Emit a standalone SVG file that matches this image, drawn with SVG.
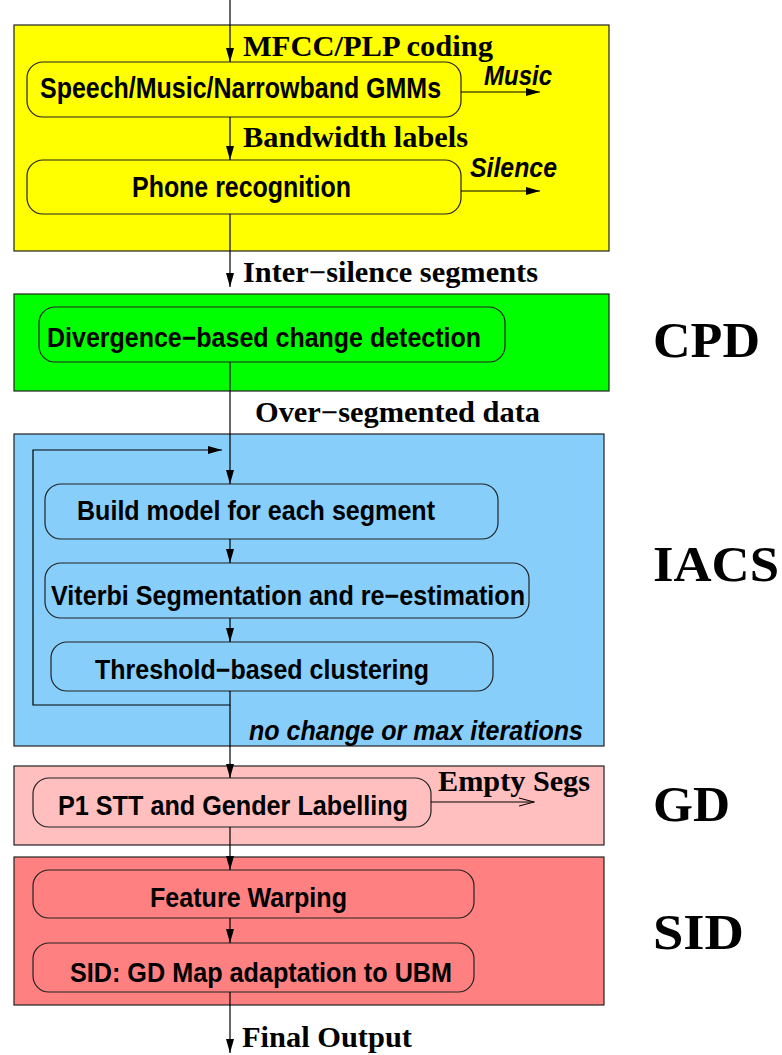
<svg xmlns="http://www.w3.org/2000/svg" width="782" height="1055" viewBox="0 0 782 1055">
  <style>
    .stage { stroke: #222; stroke-width: 1.2; }
    .box { stroke: #222; stroke-width: 1.2; }
    .step { font-family: "Liberation Sans", Arial, sans-serif; font-weight: bold; font-size: 27px; fill: #000; }
    .big { font-size: 30px; }
    .flow { font-family: "Liberation Serif", "Times New Roman", serif; font-weight: bold; font-size: 29px; fill: #000; }
    .side { font-family: "Liberation Sans", Arial, sans-serif; font-weight: bold; font-style: italic; font-size: 27px; fill: #000; }
    .tag { font-family: "Liberation Serif", "Times New Roman", serif; font-weight: bold; font-size: 51px; fill: #000; }
    .wire { fill: none; stroke: #000; stroke-width: 1.2; }
  </style>
  <defs>
    <marker id="head" markerUnits="userSpaceOnUse" markerWidth="14" markerHeight="8" refX="14" refY="4" orient="auto">
      <path d="M0,0 L14,4 L0,8 z" fill="#000"/>
    </marker>
    <marker id="open" markerUnits="userSpaceOnUse" markerWidth="16" markerHeight="10" refX="15" refY="5" orient="auto">
      <path d="M0,1 L15,5 L0,9" fill="none" stroke="#000" stroke-width="1.2"/>
    </marker>
  </defs>

  <!-- stage backgrounds -->
  <g id="stage-segmentation">
    <rect class="stage" x="14" y="25" width="595" height="226" fill="#ffff00"/>
  </g>
  <g id="stage-cpd">
    <rect class="stage" x="14" y="294" width="595" height="97" fill="#00ff00"/>
    <text class="tag" x="653" y="357" textLength="107" lengthAdjust="spacingAndGlyphs">CPD</text>
  </g>
  <g id="stage-iacs">
    <rect class="stage" x="14" y="434" width="590" height="312" fill="#87cefa"/>
    <text class="tag" x="653" y="581" textLength="126" lengthAdjust="spacingAndGlyphs">IACS</text>
  </g>
  <g id="stage-gd">
    <rect class="stage" x="14" y="766" width="590" height="79" fill="#ffbfbf"/>
    <text class="tag" x="653" y="821" textLength="77" lengthAdjust="spacingAndGlyphs">GD</text>
  </g>
  <g id="stage-sid">
    <rect class="stage" x="14" y="857" width="590" height="148" fill="#ff8080"/>
    <text class="tag" x="653" y="949" textLength="91" lengthAdjust="spacingAndGlyphs">SID</text>
  </g>

  <!-- processing steps -->
  <g id="node-gmm">
    <rect class="box" x="27" y="62" width="434" height="55" rx="16" fill="#ffff00"/>
    <!-- narrowed horizontally so the label stays inside the box -->
    <text class="step big" transform="translate(40 98) scale(0.832 1)" x="0" y="0" textLength="482" lengthAdjust="spacingAndGlyphs">Speech/Music/Narrowband GMMs</text>
  </g>
  <g id="node-phone">
    <rect class="box" x="27" y="160" width="434" height="54" rx="16" fill="#ffff00"/>
    <text class="step big" x="132" y="197" textLength="219" lengthAdjust="spacingAndGlyphs">Phone recognition</text>
  </g>
  <g id="node-divergence">
    <rect class="box" x="39" y="307" width="466" height="55" rx="16" fill="#00ff00"/>
    <text class="step" x="47" y="347" textLength="434" lengthAdjust="spacingAndGlyphs">Divergence−based change detection</text>
  </g>
  <g id="node-build">
    <rect class="box" x="45" y="484" width="453" height="55" rx="16" fill="#87cefa"/>
    <text class="step" x="77" y="520" textLength="358" lengthAdjust="spacingAndGlyphs">Build model for each segment</text>
  </g>
  <g id="node-viterbi">
    <rect class="box" x="45" y="563" width="484" height="55" rx="16" fill="#87cefa"/>
    <text class="step" x="51" y="605" textLength="474" lengthAdjust="spacingAndGlyphs">Viterbi Segmentation and re−estimation</text>
  </g>
  <g id="node-threshold">
    <rect class="box" x="51" y="642" width="442" height="49" rx="16" fill="#87cefa"/>
    <text class="step" x="95" y="679" textLength="334" lengthAdjust="spacingAndGlyphs">Threshold−based clustering</text>
  </g>
  <g id="node-p1">
    <rect class="box" x="33" y="778" width="398" height="49" rx="16" fill="#ffbfbf"/>
    <text class="step" x="58" y="815" textLength="350" lengthAdjust="spacingAndGlyphs">P1 STT and Gender Labelling</text>
  </g>
  <g id="node-warping">
    <rect class="box" x="33" y="870" width="441" height="48" rx="16" fill="#ff8080"/>
    <text class="step" x="150" y="907" textLength="197" lengthAdjust="spacingAndGlyphs">Feature Warping</text>
  </g>
  <g id="node-map">
    <rect class="box" x="33" y="943" width="441" height="49" rx="16" fill="#ff8080"/>
    <text class="step" x="70" y="982" textLength="382" lengthAdjust="spacingAndGlyphs">SID: GD Map adaptation to UBM</text>
  </g>

  <!-- connectors and their labels -->
  <g id="connectors">
    <line class="wire" x1="230" y1="0" x2="230" y2="62" marker-end="url(#head)"/>
    <line class="wire" x1="461" y1="92" x2="540" y2="92" marker-end="url(#head)"/>
    <line class="wire" x1="230" y1="117" x2="230" y2="160" marker-end="url(#head)"/>
    <line class="wire" x1="461" y1="191" x2="540" y2="191" marker-end="url(#head)"/>
    <line class="wire" x1="230" y1="214" x2="230" y2="287" marker-end="url(#head)"/>
    <line class="wire" x1="230" y1="362" x2="230" y2="484" marker-end="url(#head)"/>
    <line class="wire" x1="230" y1="539" x2="230" y2="563" marker-end="url(#head)"/>
    <line class="wire" x1="230" y1="618" x2="230" y2="642" marker-end="url(#head)"/>
    <polyline class="wire" points="230,691 230,705 33,705 33,450 222,450" marker-end="url(#head)"/>
    <line class="wire" x1="230" y1="705" x2="230" y2="778" marker-end="url(#head)"/>
    <line class="wire" x1="431" y1="802" x2="534" y2="802" marker-end="url(#open)"/>
    <line class="wire" x1="230" y1="827" x2="230" y2="870" marker-end="url(#head)"/>
    <line class="wire" x1="230" y1="918" x2="230" y2="943" marker-end="url(#head)"/>
    <line class="wire" x1="230" y1="992" x2="230" y2="1053" marker-end="url(#head)"/>

    <text class="flow" x="243" y="56" textLength="250" lengthAdjust="spacingAndGlyphs">MFCC/PLP coding</text>
    <text class="side" x="484" y="85" textLength="68" lengthAdjust="spacingAndGlyphs">Music</text>
    <text class="flow" x="243" y="147" textLength="225" lengthAdjust="spacingAndGlyphs">Bandwidth labels</text>
    <text class="side" x="470" y="177" textLength="87" lengthAdjust="spacingAndGlyphs">Silence</text>
    <text class="flow" x="243" y="282" textLength="295" lengthAdjust="spacingAndGlyphs">Inter−silence segments</text>
    <text class="flow" x="255" y="422" textLength="285" lengthAdjust="spacingAndGlyphs">Over−segmented data</text>
    <text class="side" x="249" y="740" textLength="334" lengthAdjust="spacingAndGlyphs">no change or max iterations</text>
    <text class="flow" x="438" y="791" font-weight="normal" textLength="152" lengthAdjust="spacingAndGlyphs">Empty Segs</text>
    <text class="flow" x="242" y="1047" textLength="170" lengthAdjust="spacingAndGlyphs">Final Output</text>
  </g>
</svg>
